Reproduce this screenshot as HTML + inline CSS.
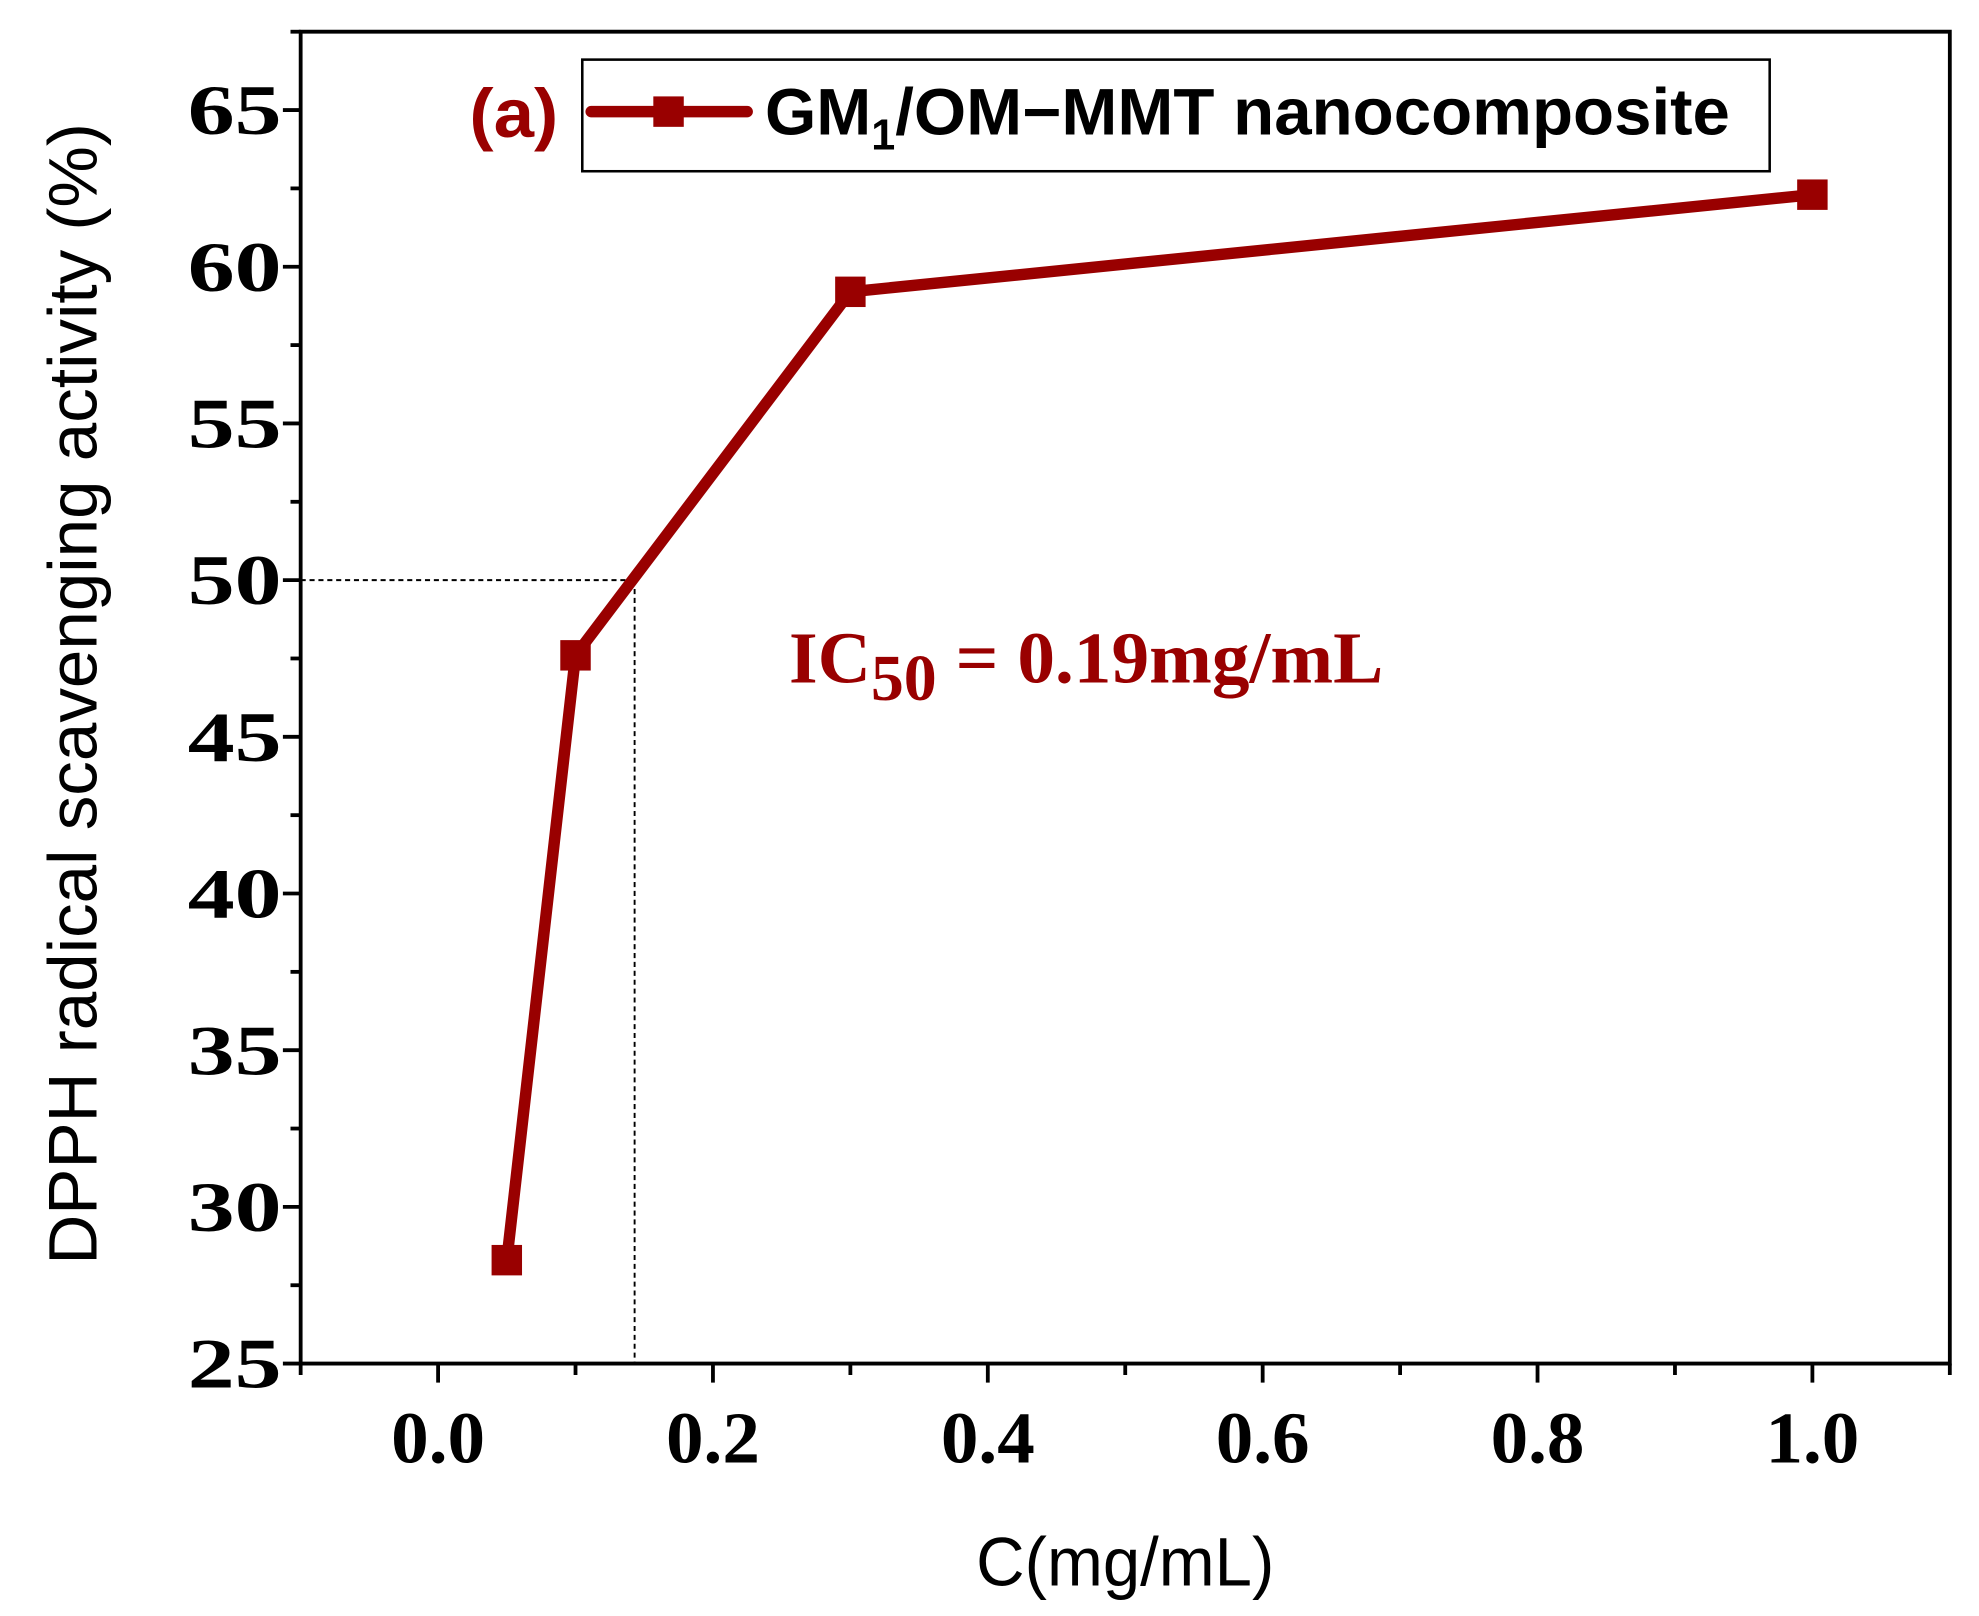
<!DOCTYPE html>
<html><head><meta charset="utf-8"><style>
html,body{margin:0;padding:0;background:#fff}
svg{display:block}
</style></head><body>
<svg id="chart" width="1979" height="1616" viewBox="0 0 1560 1274" preserveAspectRatio="none" xmlns="http://www.w3.org/2000/svg">
<g id="axes"></g>
<g id="guides"></g>
<g id="series"></g>
<text transform="translate(76,547) rotate(-90)" text-anchor="middle" font-family="Liberation Sans, sans-serif" font-size="54" textLength="900" lengthAdjust="spacingAndGlyphs">DPPH radical scavenging activity (%)</text>
<text x="887" y="1250" text-anchor="middle" font-family="Liberation Sans, sans-serif" font-size="54" textLength="235" lengthAdjust="spacingAndGlyphs">C(mg/mL)</text>
<text x="370" y="108" font-family="Liberation Sans, sans-serif" font-weight="bold" font-size="54" fill="#990000" textLength="70" lengthAdjust="spacingAndGlyphs">(a)</text>
<g>
<rect x="459" y="47" width="936" height="88" fill="none" stroke="#000" stroke-width="2"/>
<line x1="466" y1="88" x2="589" y2="88" stroke="#990000" stroke-width="9" stroke-linecap="round"/>
<rect x="515" y="76" width="24" height="24" fill="#990000"/>
<text x="603" y="106" font-family="Liberation Sans, sans-serif" font-weight="bold" font-size="52">GM<tspan font-size="34" dy="12">1</tspan><tspan dy="-12" textLength="658" lengthAdjust="spacingAndGlyphs">/OM−MMT nanocomposite</tspan></text>
</g>
<text x="622" y="538" font-family="Liberation Serif, serif" font-weight="bold" font-size="58" fill="#990000">IC<tspan font-size="52" dy="14">50</tspan><tspan dy="-14" textLength="352" lengthAdjust="spacingAndGlyphs"> = 0.19mg/mL</tspan></text>
</svg>
<script>
const xValues = [0.05, 0.1, 0.3, 1.0];
const yValues = [28.3, 47.6, 59.2, 62.3];
const xTickLabels = ["0.0","0.2","0.4","0.6","0.8","1.0"];
const yTickLabels = ["25","30","35","40","45","50","55","60","65"];
const ic50X = [0.143];
const ic50Y = [50];

const NS = "http://www.w3.org/2000/svg";
const L = 237, R = 1537, T = 25, B = 1075;
function xs(v){ return L + (v - (-0.1)) / 1.2 * (R - L); }
function ys(v){ return B - (v - 25) / 42.5 * (B - T); }
function mk(tag, attrs, parent){
  const e = document.createElementNS(NS, tag);
  for (const k in attrs) e.setAttribute(k, attrs[k]);
  parent.appendChild(e); return e;
}
const axes = document.getElementById('axes');
let el;
el = mk('path', {d:`M${L},${T} L${R},${T} L${R},${B} L${L},${B} Z`, fill:'none', stroke:'#000', 'stroke-width':3}, axes);


for (let v = 25; v <= 67.5; v += 2.5) {
  const major = Math.abs(v % 5) < 1e-9;
  el = mk('line', {x1:L-(major?14:8), x2:L, y1:ys(v), y2:ys(v), stroke:'#000', 'stroke-width':3}, axes);
  
  
}
yTickLabels.forEach(t => {
  el = mk('text', {x:L-15, y:ys(+t)+19, 'text-anchor':'end', 'font-family':'Liberation Serif, serif', 'font-weight':'bold', 'font-size':56, textLength:74, lengthAdjust:'spacingAndGlyphs'}, axes);
  el.textContent = t;
  
  
});
for (let i = -1; i <= 11; i++) {
  const v = i / 10, major = i % 2 === 0;
  el = mk('line', {x1:xs(v), x2:xs(v), y1:B, y2:B+(major?15:9), stroke:'#000', 'stroke-width':3}, axes);
  
  
}
xTickLabels.forEach(t => {
  el = mk('text', {x:xs(+t), y:1153, 'text-anchor':'middle', 'font-family':'Liberation Serif, serif', 'font-weight':'bold', 'font-size':58, textLength:74, lengthAdjust:'spacingAndGlyphs'}, axes);
  el.textContent = t;
  
  
});
const g = document.getElementById('guides');
el = mk('line', {x1:L, x2:xs(ic50X[0]), y1:ys(ic50Y[0]), y2:ys(ic50Y[0]), stroke:'#000', 'stroke-width':1.5, 'stroke-dasharray':'4 3'}, g);


el = mk('line', {x1:xs(ic50X[0]), x2:xs(ic50X[0]), y1:ys(ic50Y[0]), y2:B, stroke:'#000', 'stroke-width':1.5, 'stroke-dasharray':'4 3'}, g);


const s = document.getElementById('series');
el = mk('polyline', {points: xValues.map((x,i)=>xs(x)+','+ys(yValues[i])).join(' '), fill:'none', stroke:'#990000', 'stroke-width':9, 'stroke-linejoin':'round', 'stroke-linecap':'round'}, s);


xValues.forEach((x,i) => {
  el = mk('rect', {x:xs(x)-12, y:ys(yValues[i])-12, width:24, height:24, fill:'#990000'}, s);
  
  
});
</script>
</body></html>
